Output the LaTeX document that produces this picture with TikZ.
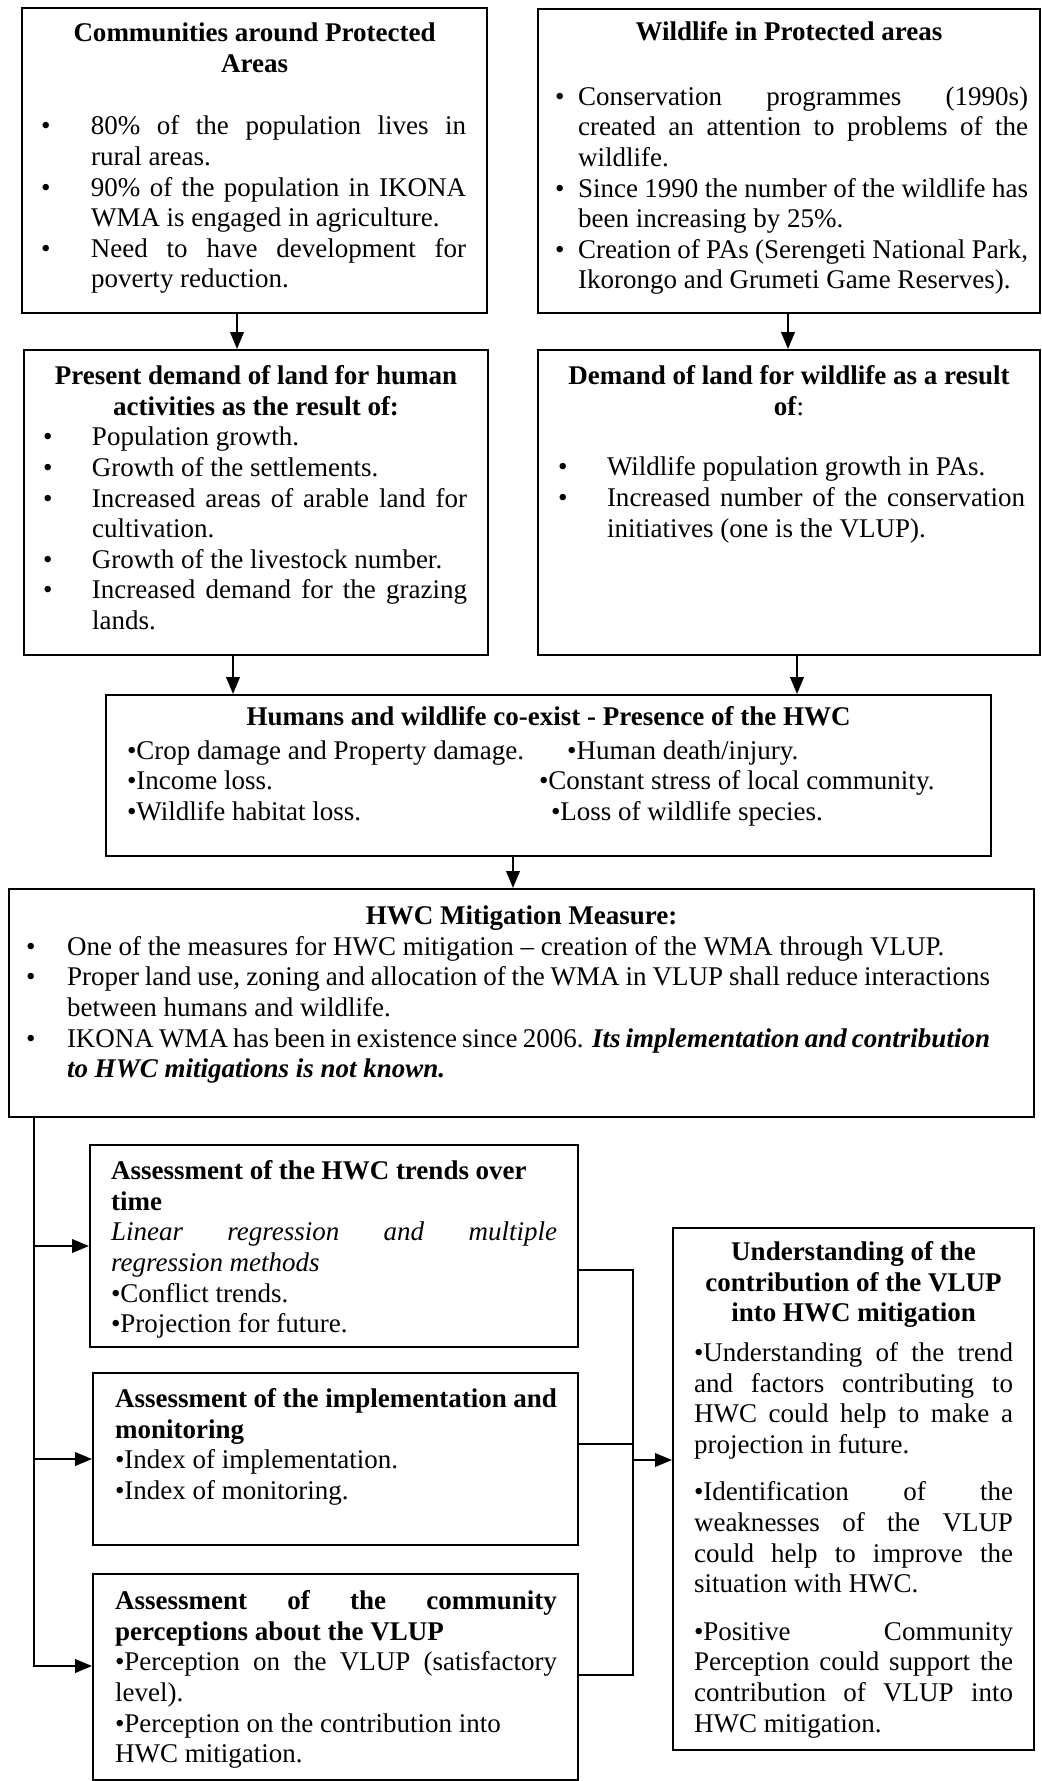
\documentclass[tikz,border=0pt]{standalone}
\usepackage{fontspec}
\setmainfont{Liberation Serif}
\usetikzlibrary{arrows.meta}
\newlength\px
\setlength\px{0.4444pt}
\hyphenpenalty=10000
\exhyphenpenalty=10000
\newcommand\hangbullet[1]{\par\noindent\llap{\makebox[#1\px][l]{\textbullet}}}
\newcommand\topgap[1]{\vskip#1\px\hbox{}}
\tikzset{
  panel/.style={draw, line width=0.9pt, inner sep=0pt, anchor=north west},
  wire/.style={line width=0.9pt},
  arr/.style={wire, -{Triangle[length=7.5pt,width=6pt]}}
}
\begin{document}
\begin{tikzpicture}[x=\px, y=-\px, font=\fontsize{12}{13.6}\selectfont]
\useasboundingbox (0,0) rectangle (1041,1781);
\node[panel] (comm) at (21,7) {\parbox[t][305\px][t]{465\px}{\topgap{3}
  {\centering\bfseries Communities around Protected\\ Areas\par}
  \vskip32\px
  \leftskip=69\px \rightskip=21\px
  \hangbullet{50}80\% of the population lives in\linebreak rural areas.
  \hangbullet{50}90\% of the population in IKONA\linebreak WMA is engaged in agriculture.
  \hangbullet{50}Need to have development for\linebreak poverty reduction.\par}};
\node[panel] (wild) at (537,8) {\parbox[t][304\px][t]{502\px}{\topgap{1}
  {\centering\bfseries Wildlife in Protected areas\par}
  \vskip34\px
  \leftskip=40\px \rightskip=12\px
  \hangbullet{23}Conservation programmes (1990s)\linebreak created an attention to problems of the\linebreak wildlife.
  \hangbullet{23}Since 1990 the number of the wildlife has\linebreak been increasing by 25\%.
  \hangbullet{23}Creation of PAs (Serengeti National Park,\linebreak Ikorongo and Grumeti Game Reserves).\par}};
\node[panel] (demh) at (23,349) {\parbox[t][305\px][t]{464\px}{\topgap{4}
  {\centering\bfseries Present demand of land for human\\ activities as the result of:\par}
  \leftskip=68\px \rightskip=21\px
  \hangbullet{49}Population growth.
  \hangbullet{49}Growth of the settlements.
  \hangbullet{49}Increased areas of arable land for\linebreak cultivation.
  \hangbullet{49}Growth of the livestock number.
  \hangbullet{49}Increased demand for the grazing\linebreak lands.\par}};
\node[panel] (demw) at (537,349) {\parbox[t][305\px][t]{502\px}{\topgap{4}
  {\centering\textbf{Demand of land for wildlife as a result}\\ \textbf{of}:\par}
  \vskip30\px
  \leftskip=69\px \rightskip=15\px
  \hangbullet{49}Wildlife population growth in PAs.
  \hangbullet{49}Increased number of the conservation\linebreak initiatives (one is the VLUP).\par}};
\node[panel] (hwc) at (105,694) {\parbox[t][161\px][t]{885\px}{\topgap{0}
  {\centering\bfseries Humans and wildlife co-exist - Presence of the HWC\par}
  \vskip3\px
  \leftskip=21\px
  \noindent\makebox[440\px][l]{\textbullet Crop damage and Property damage.}\textbullet Human death/injury.\par
  \noindent\makebox[412\px][l]{\textbullet Income loss.}\textbullet Constant stress of local community.\par
  \noindent\makebox[424\px][l]{\textbullet Wildlife habitat loss.}\textbullet Loss of wildlife species.\par}};
\node[panel] (mitig) at (8,888) {\parbox[t][228\px][t]{1025\px}{\topgap{5}
  {\centering\bfseries HWC Mitigation Measure:\par}
  \leftskip=58\px \rightskip=44\px
  \hangbullet{41}One of the measures for HWC mitigation -- creation of the WMA through VLUP.
  \hangbullet{41}Proper land use, zoning and allocation of the WMA in VLUP shall reduce interactions\linebreak between humans and wildlife.
  \hangbullet{41}IKONA WMA has been in existence since 2006. \textbf{\textit{Its implementation and contribution\linebreak to HWC mitigations is not known.}}\par}};
\node[panel] (trend) at (89,1144) {\parbox[t][202\px][t]{488\px}{\topgap{4}
  \leftskip=21\px \rightskip=21\px
  \noindent\textbf{Assessment of the HWC trends over\\ time}\par
  \noindent\textit{Linear regression and multiple\linebreak regression methods}\par
  \noindent\textbullet Conflict trends.\par
  \noindent\textbullet Projection for future.\par}};
\node[panel] (impl) at (92,1372) {\parbox[t][172\px][t]{485\px}{\topgap{4}
  \leftskip=22\px \rightskip=21\px
  \noindent\textbf{Assessment of the implementation and\linebreak monitoring}\par
  \noindent\textbullet Index of implementation.\par
  \noindent\textbullet Index of monitoring.\par}};
\node[panel] (perc) at (92,1573) {\parbox[t][206\px][t]{485\px}{\topgap{5}
  \leftskip=22\px \rightskip=21\px
  \noindent\textbf{Assessment of the community\linebreak perceptions about the VLUP}\par
  \noindent\textbullet Perception on the VLUP (satisfactory\linebreak level).\par
  \noindent\textbullet Perception on the contribution into\\ HWC mitigation.\par}};
\node[panel] (under) at (672,1227) {\parbox[t][522\px][t]{361\px}{\topgap{2}
  {\centering\bfseries Understanding of the\\ contribution of the VLUP\\ into HWC mitigation\par}
  \vskip9\px
  \leftskip=21\px \rightskip=21\px
  \noindent\textbullet Understanding of the trend\linebreak and factors contributing to\linebreak HWC could help to make a\linebreak projection in future.\par
  \vskip17\px
  \noindent\textbullet Identification of the\linebreak weaknesses of the VLUP\linebreak could help to improve the\linebreak situation with HWC.\par
  \vskip17\px
  \noindent\textbullet Positive Community\linebreak Perception could support the\linebreak contribution of VLUP into\linebreak HWC mitigation.\par}};
\draw[arr] (237,0 |- comm.south) -- (237,0 |- demh.north);
\draw[arr] (788,0 |- wild.south) -- (788,0 |- demw.north);
\draw[arr] (233,0 |- demh.south) -- (233,0 |- hwc.north);
\draw[arr] (797,0 |- demw.south) -- (797,0 |- hwc.north);
\draw[arr] (513,0 |- hwc.south) -- (513,0 |- mitig.north);
\coordinate (spine) at (34,0 |- mitig.south);
\draw[arr] (spine) |- (trend.west);
\draw[arr] (spine) |- (impl.west);
\draw[arr] (spine) |- (perc.west |- 0,1666);
\coordinate (merge) at (633,1460);
\draw[wire] (trend.east |- 0,1270) -| (merge);
\draw[wire] (impl.east |- 0,1444) -| (merge);
\draw[wire] (perc.east |- 0,1675) -| (merge);
\draw[arr] (merge) -- (merge -| under.west);
\end{tikzpicture}
\end{document}
